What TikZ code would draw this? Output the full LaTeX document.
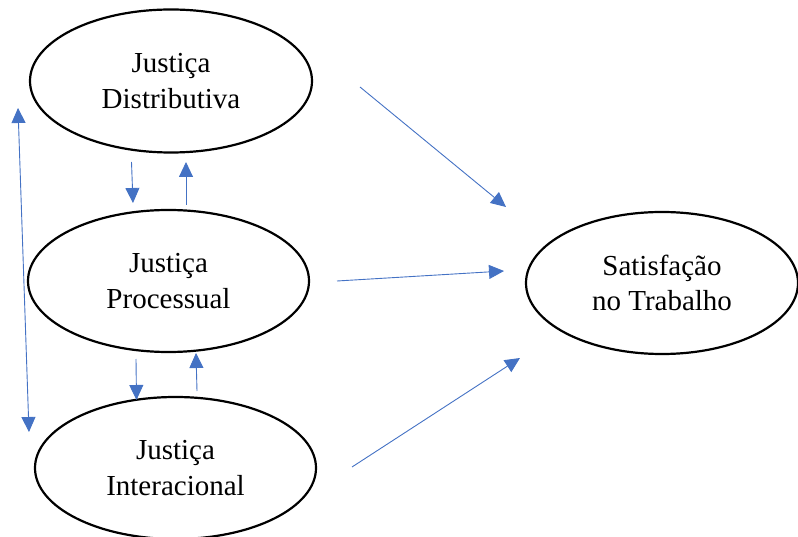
\documentclass[tikz,border=0pt]{standalone}
\usepackage{fontspec}
\setmainfont{Liberation Serif}
\usetikzlibrary{shapes.geometric,arrows.meta}
\definecolor{arrblue}{HTML}{4472C4}
\begin{document}
\begin{tikzpicture}[x=1pt,y=-1pt,
  oval/.style={ellipse,draw=black,line width=2.2pt,inner sep=0pt,align=center,
    font=\fontsize{29}{35.5}\selectfont},
  link/.style={draw=arrblue,line width=0.9pt,-{Triangle[length=15pt,width=14pt]}},
  dlink/.style={draw=arrblue,line width=0.9pt,{Triangle[length=15pt,width=14pt]}-{Triangle[length=15pt,width=14pt]}}]
\useasboundingbox (0,0) rectangle (798,537);
\node[oval,minimum width=282pt,minimum height=143pt] (dist) at (171,81) {Justiça\\Distributiva};
\node[oval,minimum width=281pt,minimum height=142pt] (proc) at (168.5,281) {Justiça\\Processual};
\node[oval,minimum width=281pt,minimum height=142pt] (inter) at (175.5,468) {Justiça\\Interacional};
\node[oval,minimum width=272pt,minimum height=142pt] (sat) at (662,283) {Satisfação\\no Trabalho};
% free ends
\coordinate (a1s) at (360,87);  \coordinate (a1e) at (506,207);
\coordinate (a2s) at (337,281); \coordinate (a2e) at (504,271);
\coordinate (a3s) at (352,467); \coordinate (a3e) at (520,358);
\coordinate (d1s) at (131.5,162); \coordinate (d1e) at (133,203);
\coordinate (u1s) at (186,205); \coordinate (u1e) at (186,162);
\coordinate (d2s) at (136,359); \coordinate (d2e) at (136.5,400);
\coordinate (u2s) at (197,391); \coordinate (u2e) at (196,353);
\coordinate (ls) at (18,108); \coordinate (le) at (29,432);
\draw[link] (a1s) -- (a1e);
\draw[link] (a2s) -- (a2e);
\draw[link] (a3s) -- (a3e);
\draw[link] (d1s) -- (d1e);
\draw[link] (u1s) -- (u1e);
\draw[link] (d2s) -- (d2e);
\draw[link] (u2s) -- (u2e);
\draw[dlink] (ls) -- (le);
\end{tikzpicture}
\end{document}
